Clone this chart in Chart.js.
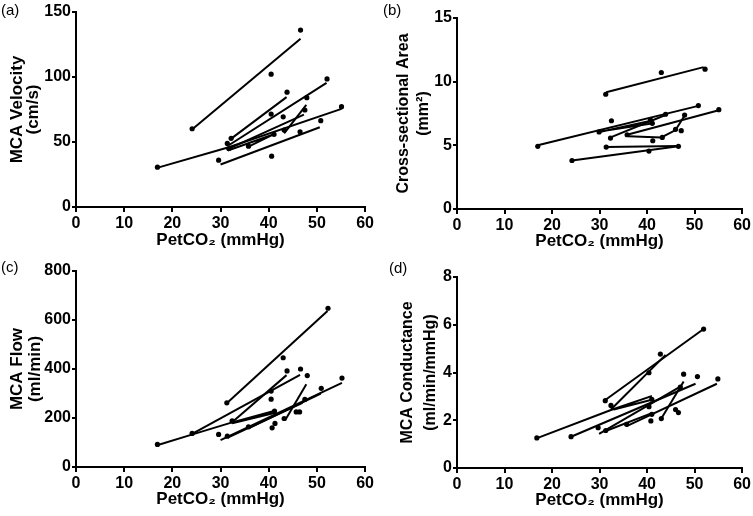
<!DOCTYPE html>
<html>
<head>
<meta charset="utf-8">
<script src="https://cdn.jsdelivr.net/npm/chart.js@4.4.1/dist/chart.umd.min.js"></script>
<style>
  body { margin: 0; background: #fff; }
  #wrap { position: relative; width: 753px; height: 516px; overflow: hidden; }
  canvas { position: absolute; }
  .lbl { position: absolute; font: 15px "Liberation Sans", Arial, sans-serif; color: #000; }
</style>
</head>
<body>
<div id="wrap">
  <canvas id="chartA" width="376" height="258" style="left:0;top:0"></canvas>
  <canvas id="chartB" width="377" height="258" style="left:376px;top:0"></canvas>
  <canvas id="chartC" width="376" height="258" style="left:0;top:258px"></canvas>
  <canvas id="chartD" width="377" height="258" style="left:376px;top:258px"></canvas>
  <div class="lbl" style="left:1px;top:1px">(a)</div>
  <div class="lbl" style="left:383px;top:1px">(b)</div>
  <div class="lbl" style="left:1px;top:258px">(c)</div>
  <div class="lbl" style="left:389px;top:259px">(d)</div>
</div>
<script>
// (a) MCA velocity
const velPetCO2 = [16.9, 24.1, 29.6, 31.4, 31.7, 32.2, 35.8, 40.5, 40.5, 40.6, 41.1, 43.0, 43.2, 43.8, 46.5, 46.6, 47.5, 47.9, 50.8, 52.1, 55.1];
const velocity  = [30.6, 60.2, 36.0, 48.9, 45.0, 52.8, 46.8, 102.2, 71.5, 39.1, 55.9, 69.4, 59.2, 88.3, 57.9, 136.1, 74.6, 84.1, 66.4, 98.5, 77.2];
const velFitX = [[24.2, 46.6], [32, 43.7], [31.7, 52], [17, 31.7, 55.1], [31.5, 47.3], [31.5, 41.1, 35.8], [30, 50.6], [43.2, 47.8]];
const velFitY = [[60, 129.5], [52, 84.5], [47.5, 95.5], [30.3, 46, 75.5], [44.5, 71], [43.5, 56, 46.5], [32.7, 61.3], [56.6, 78.5]];

// (b) cross-sectional area
const areaPetCO2 = [17, 24.2, 29.9, 31.3, 31.4, 32.3, 32.5, 35.8, 40.4, 40.7, 41.1, 41.2, 43.0, 43.2, 43.9, 46.0, 46.6, 47.2, 47.9, 50.8, 52.2, 55.1];
const area       = [4.92, 3.81, 6.05, 9.01, 4.86, 5.57, 6.93, 5.83, 4.55, 7.0, 6.73, 5.36, 10.72, 5.62, 7.44, 6.26, 4.92, 6.15, 7.38, 8.12, 10.98, 7.80];
const areaFitX = [[31.4, 51.9], [17, 50.8], [35.8, 55.1], [32.2, 44], [29.5, 41.1, 41.1, 30], [24.2, 46.6], [31.4, 46.6], [36, 43, 46, 47.9]];
const areaFitY = [[9.17, 11.14], [5.0, 8.1], [5.83, 7.75], [5.6, 7.4], [6.0, 6.95, 6.72, 6.08], [3.81, 4.92], [4.87, 4.95], [5.72, 5.62, 6.2, 7.35]];

// (c) MCA flow
const flowPetCO2 = [16.9, 24.1, 29.6, 31.3, 31.4, 32.4, 35.8, 40.5, 40.5, 40.7, 41.2, 41.3, 43.0, 43.2, 43.8, 45.7, 46.4, 46.6, 47.5, 48.0, 50.9, 52.3, 55.2];
const flow       = [92, 137, 133, 262, 126, 188, 164, 310, 277, 160, 228, 178, 446, 198, 392, 225, 225, 400, 276, 373, 321, 648, 363];
const flowFitX = [[31.4, 52.2], [24.2, 46.5], [17, 24.2, 32.4, 41.2, 41.2, 32.4], [32.4, 43.7], [30, 55.2], [31.5, 47], [43.4, 47.8], [35.8, 50.8]];
const flowFitY = [[262, 637], [136, 376], [90, 133, 182, 229, 221, 178], [183, 375], [110, 343], [120, 262], [191, 338], [158, 300]];

// (d) MCA conductance
const condPetCO2 = [16.8, 24.0, 29.7, 31.2, 31.3, 32.4, 35.7, 40.4, 40.8, 41.0, 41.0, 40.4, 42.8, 43.0, 46.0, 46.6, 47.0, 47.7, 50.6, 51.9, 54.9];
const conductance = [1.26, 1.31, 1.69, 2.82, 1.57, 2.62, 1.83, 2.57, 1.97, 2.88, 2.25, 3.99, 4.77, 2.07, 2.45, 2.32, 3.39, 3.93, 3.83, 5.82, 3.73];
const condFitX = [[31.2, 51.9], [32.4, 43.9], [17, 32.4, 40.8, 40.8, 33], [24, 50.2], [29.9, 47], [31.3, 41], [35.7, 54.7], [43, 47.7]];
const condFitY = [[2.85, 5.82], [2.45, 4.74], [1.26, 2.43, 3.0, 2.85, 2.45], [1.31, 3.53], [1.43, 3.41], [1.55, 2.3], [1.75, 3.53], [2.07, 3.62]];

const FONT = '"Liberation Sans", Arial, sans-serif';

function makePanel(id, xs, ys, fitX, fitY, yMax, yStep, yTitle, lay) {
  const datasets = [{
    data: xs.map((x, i) => ({ x: x, y: ys[i] })),
    showLine: false,
    pointRadius: 2.6,
    pointBackgroundColor: '#000',
    pointBorderWidth: 0
  }];
  fitX.forEach((fx, k) => {
    datasets.push({
      data: fx.map((x, i) => ({ x: x, y: fitY[k][i] })),
      showLine: true,
      borderColor: '#000',
      borderWidth: 2,
      pointRadius: 0,
      tension: 0
    });
  });

  new Chart(document.getElementById(id), {
    type: 'scatter',
    data: { datasets },
    options: {
      responsive: false,
      animation: false,
      devicePixelRatio: 1,
      layout: { padding: { left: 0, right: lay.right, top: lay.top, bottom: 0 } },
      plugins: { legend: { display: false }, tooltip: { enabled: false } },
      scales: {
        x: {
          type: 'linear', min: 0, max: 60,
          ticks: { stepSize: 10, color: '#000', padding: 2, maxRotation: 0, font: { family: FONT, size: 16, weight: 'bold' } },
          grid: { display: true, drawOnChartArea: false, tickLength: 5, color: '#000', lineWidth: 2 },
          border: { color: '#000', width: 2 },
          title: { display: true, text: 'PetCO₂ (mmHg)', color: '#000', font: { family: FONT, size: 17, weight: 'bold' }, padding: { top: 0, bottom: lay.xPad } },
          afterFit(s) { s.height = lay.xh; }
        },
        y: {
          type: 'linear', min: 0, max: yMax,
          ticks: { stepSize: yStep, color: '#000', padding: 1, font: { family: FONT, size: 16, weight: 'bold' } },
          grid: { display: true, drawOnChartArea: false, tickLength: 4, color: '#000', lineWidth: 2 },
          border: { color: '#000', width: 2 },
          title: { display: true, text: yTitle, color: '#000', font: { family: FONT, size: lay.ts, weight: 'bold', lineHeight: lay.lh }, padding: { top: lay.yPad, bottom: 0 } },
          afterFit(s) { s.width = lay.yw; }
        }
      }
    }
  });
}

makePanel('chartA', velPetCO2, velocity, velFitX, velFitY, 150, 50, ['MCA Velocity', '(cm/s)'],
  { right: 8, top: 12, xh: 51, yw: 76, xPad: 7, yPad: 9, ts: 17, lh: 0.95 });
makePanel('chartB', areaPetCO2, area, areaFitX, areaFitY, 15, 5, ['Cross-sectional Area', '(mm²)'],
  { right: 10, top: 18, xh: 49, yw: 81, xPad: 6, yPad: 18, ts: 16, lh: 1.25 });
makePanel('chartC', flowPetCO2, flow, flowFitX, flowFitY, 800, 200, ['MCA Flow', '(ml/min)'],
  { right: 8, top: 13, xh: 49, yw: 76, xPad: 6, yPad: 9, ts: 17, lh: 1.03 });
makePanel('chartD', condPetCO2, conductance, condFitX, condFitY, 8, 2, ['MCA Conductance', '(ml/min/mmHg)'],
  { right: 9, top: 19, xh: 48, yw: 81, xPad: 5, yPad: 21, ts: 16, lh: 1.38 });
</script>
</body>
</html>
